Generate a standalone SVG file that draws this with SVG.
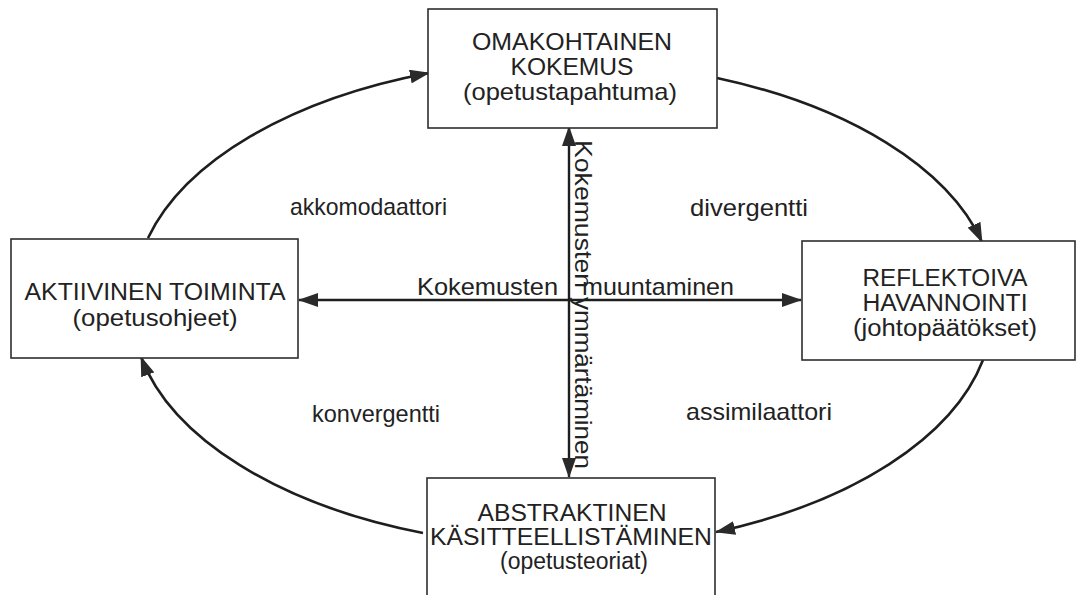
<svg xmlns="http://www.w3.org/2000/svg" width="1078" height="595" viewBox="0 0 1078 595">
  <style>
    .box { fill: #ffffff; stroke: #2e2e2e; stroke-width: 1.6; }
    .t { font-family: "Liberation Sans", Arial, sans-serif; fill: #222; }
    .title { font-size: 24px; text-anchor: middle; }
    .tight { font-size: 23px; }
    .lbl { font-size: 24px; }
    .cycle { fill: none; stroke: #1e1e1e; stroke-width: 2.6; marker-end: url(#head); }
    .axis { fill: none; stroke: #1e1e1e; stroke-width: 2.4; marker-start: url(#head); marker-end: url(#head); }
  </style>
  <defs>
    <marker id="head" viewBox="0 0 20 14" refX="19" refY="7" markerUnits="userSpaceOnUse" markerWidth="20" markerHeight="14" orient="auto-start-reverse">
      <path d="M0,0 L20,7 L0,14 Z" fill="#2a2a2a"/>
    </marker>
  </defs>
  <rect width="1078" height="595" fill="#ffffff"/>

  <!-- connectors: the learning cycle arcs and the two crossing axes -->
  <g id="connectors">
    <path class="cycle" d="M148,238 A440,238 0 0 1 429,73"/>
    <path class="cycle" d="M717,78 A440,238 0 0 1 982,242"/>
    <path class="cycle" d="M983,360 A440,238 0 0 1 716,532"/>
    <path class="cycle" d="M423,533 A440,238 0 0 1 141,357"/>
    <path class="axis" d="M569,127 L569,477"/>
    <path class="axis" d="M299,300 L801,300"/>
  </g>

  <!-- axis labels -->
  <g id="axis-labels" class="t lbl">
    <text x="417" y="295" textLength="141" lengthAdjust="spacingAndGlyphs">Kokemusten</text>
    <text x="582" y="295" textLength="152" lengthAdjust="spacingAndGlyphs">muuntaminen</text>
    <text transform="translate(575,140) rotate(90)" textLength="148" lengthAdjust="spacingAndGlyphs">Kokemusten</text>
    <text transform="translate(575,297) rotate(90)" textLength="172" lengthAdjust="spacingAndGlyphs">ymmärtäminen</text>
  </g>

  <!-- learning style labels -->
  <g id="style-labels" class="t lbl">
    <text x="290" y="215" textLength="157" lengthAdjust="spacingAndGlyphs">akkomodaattori</text>
    <text x="690" y="216" textLength="118" lengthAdjust="spacingAndGlyphs">divergentti</text>
    <text x="312" y="422" textLength="128" lengthAdjust="spacingAndGlyphs">konvergentti</text>
    <text x="686" y="420" textLength="146" lengthAdjust="spacingAndGlyphs">assimilaattori</text>
  </g>

  <g id="node-kokemus">
    <rect class="box" x="428" y="9" width="289" height="119"/>
    <text class="t title" x="572" y="50" textLength="200" lengthAdjust="spacingAndGlyphs">OMAKOHTAINEN</text>
    <text class="t title" x="572" y="75" textLength="123" lengthAdjust="spacingAndGlyphs">KOKEMUS</text>
    <text class="t title" x="570" y="100" textLength="214" lengthAdjust="spacingAndGlyphs">(opetustapahtuma)</text>
  </g>

  <g id="node-toiminta">
    <rect class="box" x="11" y="239" width="287" height="119"/>
    <text class="t title" x="155" y="300" textLength="261" lengthAdjust="spacingAndGlyphs">AKTIIVINEN TOIMINTA</text>
    <text class="t title" x="155" y="326" textLength="165" lengthAdjust="spacingAndGlyphs">(opetusohjeet)</text>
  </g>

  <g id="node-havannointi">
    <rect class="box" x="802" y="241" width="273" height="119"/>
    <text class="t title tight" x="945" y="286" textLength="165" lengthAdjust="spacingAndGlyphs">REFLEKTOIVA</text>
    <text class="t title tight" x="945" y="311" textLength="165" lengthAdjust="spacingAndGlyphs">HAVANNOINTI</text>
    <text class="t title tight" x="945" y="336" textLength="184" lengthAdjust="spacingAndGlyphs">(johtopäätökset)</text>
  </g>

  <g id="node-kasitteellistaminen">
    <rect class="box" x="427" y="478" width="288" height="130"/>
    <text class="t title tight" x="572" y="521" textLength="189" lengthAdjust="spacingAndGlyphs">ABSTRAKTINEN</text>
    <text class="t title tight" x="571" y="545" textLength="282" lengthAdjust="spacingAndGlyphs">KÄSITTEELLISTÄMINEN</text>
    <text class="t title tight" x="574" y="569" textLength="148" lengthAdjust="spacingAndGlyphs">(opetusteoriat)</text>
  </g>
</svg>
